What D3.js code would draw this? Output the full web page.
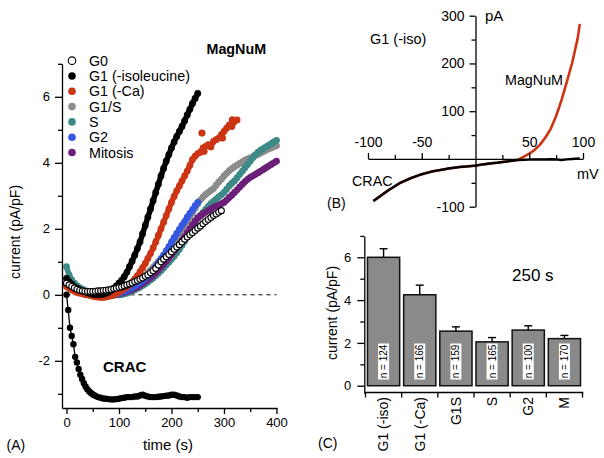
<!DOCTYPE html>
<html><head><meta charset="utf-8">
<script src="https://cdn.jsdelivr.net/npm/d3@7"></script>
<style>
body{margin:0;background:#fff;}
svg{display:block;font-family:"Liberation Sans",Arial,sans-serif;}
</style></head>
<body>
<svg id="c" width="604" height="458"></svg>
<script>
// ---------- Panel A data (time in s, current in pA/pF) ----------
const tA = [0,5,10,15,20,25,30,35,40,45,50,55,60,65,70,75,80,85,90,95,100,105,110,115,120,125,130,135,140,145,150,155,160,165,170,175,180,185,190,195,200,205,210,215,220,225,230,235,240,245,250,255,260,265,270,275,280,285,290,295,300,305,310,315,320,325,330,335,340,345,350,355,360,365,370,375,380,385,390,395,400];
const seriesNames = ["G0","G1 (-isoleucine)","G1 (-Ca)","G1/S","S","G2","Mitosis"];
const seriesColors = ["#ffffff","#000000","#cc3514","#8c8c8c","#3d8a87","#3558e0","#6c1f78"];
const valG0 = [0.35,0.3,0.25,0.21,0.17,0.14,0.12,0.11,0.1,0.1,0.1,0.11,0.12,0.12,0.13,0.14,0.15,0.16,0.18,0.2,0.22,0.24,0.27,0.3,0.33,0.36,0.4,0.43,0.47,0.51,0.56,0.61,0.67,0.73,0.8,0.9,1.0,1.08,1.15,1.22,1.3,1.38,1.45,1.52,1.6,1.68,1.75,1.82,1.88,1.95,2.02,2.08,2.15,2.22,2.28,2.34,2.4,2.45,2.5,2.55];
const valG1 = [0.5,0.4,0.32,0.25,0.2,0.16,0.12,0.09,0.06,0.04,0.02,0.01,0.0,0.01,0.02,0.05,0.08,0.13,0.2,0.27,0.35,0.44,0.55,0.68,0.85,1.02,1.2,1.4,1.6,1.85,2.1,2.35,2.6,2.85,3.1,3.35,3.6,3.83,4.05,4.25,4.45,4.63,4.8,4.95,5.1,5.27,5.45,5.62,5.8,5.95,6.1];
const valG1Ca = [0.25,0.2,0.15,0.11,0.08,0.05,0.03,0.01,0.0,-0.02,-0.04,-0.06,-0.07,-0.08,-0.08,-0.07,-0.05,-0.03,0.0,0.04,0.08,0.13,0.18,0.24,0.3,0.38,0.48,0.58,0.7,0.82,0.95,1.1,1.25,1.42,1.6,1.8,2.0,2.2,2.4,2.6,2.8,2.98,3.15,3.3,3.45,3.6,3.75,3.92,4.1,4.2,4.28,4.32,4.45,4.5,4.55,4.48,4.65,4.7,4.75,4.85,4.95,5.05,5.15,5.1,5.25,5.3];
const scatterG1CaT = [258,262,297,316];
const scatterG1CaV = [4.9,4.35,4.75,5.3];
const valG1S = [0.4,0.32,0.25,0.2,0.15,0.11,0.08,0.06,0.04,0.02,0.01,0.0,0.0,0.0,0.0,0.01,0.02,0.03,0.05,0.07,0.1,0.13,0.17,0.21,0.25,0.3,0.35,0.41,0.47,0.53,0.6,0.67,0.75,0.83,0.92,1.01,1.1,1.2,1.3,1.4,1.5,1.62,1.74,1.86,1.98,2.1,2.22,2.35,2.48,2.62,2.75,2.87,2.96,3.04,3.1,3.16,3.22,3.32,3.42,3.5,3.6,3.68,3.76,3.82,3.88,3.93,3.98,4.03,4.08,4.12,4.15,4.19,4.22,4.26,4.3,4.34,4.38,4.42,4.45,4.49,4.52];
const valS = [0.85,0.6,0.45,0.35,0.28,0.22,0.17,0.13,0.1,0.07,0.05,0.03,0.02,0.01,0.0,-0.01,-0.01,-0.01,-0.01,0.0,0.0,0.01,0.03,0.05,0.08,0.11,0.15,0.19,0.23,0.28,0.33,0.39,0.45,0.51,0.58,0.65,0.73,0.81,0.9,0.99,1.08,1.17,1.27,1.38,1.5,1.62,1.75,1.9,2.05,2.2,2.32,2.41,2.5,2.59,2.68,2.76,2.83,2.9,2.97,3.03,3.1,3.2,3.3,3.38,3.45,3.55,3.65,3.75,3.85,3.95,4.05,4.15,4.25,4.32,4.38,4.43,4.48,4.53,4.58,4.63,4.68];
const valG2 = [0.3,0.25,0.2,0.16,0.12,0.09,0.07,0.05,0.03,0.01,0.0,-0.01,-0.02,-0.03,-0.03,-0.03,-0.02,-0.01,0.0,0.02,0.05,0.07,0.1,0.14,0.18,0.22,0.27,0.32,0.37,0.43,0.5,0.57,0.65,0.75,0.85,0.96,1.08,1.2,1.33,1.46,1.6,1.73,1.86,1.98,2.1,2.22,2.35,2.47,2.58,2.7,2.8];
const valM = [0.3,0.25,0.2,0.16,0.12,0.1,0.08,0.06,0.05,0.03,0.02,0.01,0.0,-0.01,-0.01,-0.01,-0.01,0.0,0.0,0.01,0.03,0.05,0.07,0.1,0.13,0.16,0.2,0.24,0.29,0.34,0.4,0.46,0.52,0.59,0.67,0.75,0.84,0.93,1.02,1.12,1.22,1.32,1.42,1.53,1.65,1.76,1.88,2.0,2.12,2.23,2.33,2.39,2.45,2.5,2.55,2.6,2.65,2.69,2.72,2.76,2.8,2.87,2.95,3.02,3.1,3.18,3.27,3.35,3.43,3.5,3.56,3.6,3.65,3.7,3.75,3.8,3.85,3.9,3.95,4.0,4.05];
const tCRAC = [0,3.3,6.6,9.9,13.2,16.5,19.8,23.1,26.4,29.7,33,36.3,39.6,42.9,46.2,49.5,52.8,56.1,60,65,70,75,80,85,90,95,100,105,110,115,120,125,130,135,140,145,150,155,160,165,170,175,180,185,190,195,200,205,210,215,220,225,230,235,240,245,250];
const valCRAC = [0,-0.46,-1.0,-1.25,-1.5,-1.88,-2.05,-2.25,-2.42,-2.55,-2.68,-2.78,-2.86,-2.92,-2.97,-3.01,-3.04,-3.07,-3.1,-3.12,-3.14,-3.15,-3.16,-3.17,-3.17,-3.16,-3.15,-3.13,-3.12,-3.1,-3.1,-3.1,-3.08,-3.08,-3.05,-3.03,-3.06,-3.08,-3.1,-3.1,-3.1,-3.09,-3.08,-3.07,-3.06,-3.05,-3.03,-3.03,-3.05,-3.08,-3.1,-3.1,-3.12,-3.1,-3.1,-3.1,-3.1];
const ticksAx = [0,100,200,300,400];
const ticksAy = [-2,0,2,4,6];

// ---------- Panel B data (mV, pA) ----------
const mvB = [-95,-90,-85,-80,-75,-70,-65,-60,-55,-50,-45,-40,-35,-30,-25,-20,-15,-10,-5,0,5,10,15,20,25,30,35,40,45,50,55,60,65,70,75,80,85,90,95,97];
const pACRAC = [-88,-80,-72,-64,-57,-50,-45,-40,-36,-32,-29,-26,-24,-22,-20,-18.5,-17,-16,-15,-14,-12,-10.5,-9,-8,-6.5,-5,-3.5,-2.5,-2,-1.5,-1.2,-1,-1,-0.5,-1,-2.5,-1,0,1,0.5];
const pAMagNuM = [-88,-80,-72,-64,-57,-50,-45,-40,-36,-32,-29,-26,-24,-22,-20,-18.5,-17,-16,-15,-14,-12,-10.5,-9,-8,-6.5,-5,-3.5,-1,5,11,19,30,45,63,90,123,162,202,252,283];
const ticksBx = [-100,-50,50,100];
const ticksBy = [-100,100,200,300];

// ---------- Panel C data (current at 250 s) ----------
const catsC = ["G1 (-iso)","G1 (-Ca)","G1S","S","G2","M"];
const meanC = [6.0,4.25,2.55,2.05,2.6,2.2];
const semC = [0.4,0.45,0.2,0.2,0.2,0.15];
const nC = [124,166,159,165,100,170];
const ticksCy = [0,2,4,6];

const svg = d3.select("#c");
svg.append("rect").attr("width",604).attr("height",458).attr("fill","#fff");
const FONT = "'Liberation Sans', Arial, sans-serif";
const fmt = d => String(d);

function styleAxis(g, fs){
  g.select(".domain").attr("stroke","#000").attr("stroke-width",1.3);
  g.selectAll(".tick line").attr("stroke","#000").attr("stroke-width",1.3);
  g.selectAll(".tick text").attr("fill","#000").attr("font-size",fs).attr("font-family",FONT);
}
function minor(g){ g.select(".domain").remove(); g.selectAll("line").attr("stroke","#000").attr("stroke-width",1.3); }

// ================= Panel A =================
const xA = d3.scaleLinear().domain([-8.57,401]).range([62,277]);
const yA = d3.scaleLinear().domain([-3.43,7]).range([408,63.8]);

const gAy = svg.append("g").attr("transform","translate(62,0)")
  .call(d3.axisLeft(yA).tickValues(ticksAy).tickSize(7).tickSizeOuter(0).tickPadding(5).tickFormat(fmt));
styleAxis(gAy,13);
svg.append("g").attr("transform","translate(62,0)")
  .call(d3.axisLeft(yA).tickValues([-3,-1,1,3,5,7]).tickSize(4).tickSizeOuter(0).tickFormat("")).call(minor);
const gAx = svg.append("g").attr("transform","translate(0,408)")
  .call(d3.axisBottom(xA).tickValues(ticksAx).tickSize(6).tickSizeOuter(0).tickPadding(4).tickFormat(fmt));
styleAxis(gAx,13);
svg.append("g").attr("transform","translate(0,408)")
  .call(d3.axisBottom(xA).tickValues([50,150,250,350]).tickSize(4).tickSizeOuter(0).tickFormat("")).call(minor);

// zero dashed line
svg.append("line").attr("x1",xA(0)).attr("x2",xA(400)).attr("y1",yA(0)).attr("y2",yA(0))
  .attr("stroke","#000").attr("stroke-width",1).attr("stroke-dasharray","4,4");

const lineA = d3.line().x(d=>xA(d[0])).y(d=>yA(d[1]));
function zipT(vals, times){ return vals.map((v,i)=>[times[i],v]); }
function dots(pts, color, r){
  svg.append("g").selectAll("circle").data(pts).join("circle")
    .attr("cx",d=>xA(d[0])).attr("cy",d=>yA(d[1])).attr("r",r).attr("fill",color);
}
function thickSeries(vals, color){
  const pts = zipT(vals, tA);
  svg.append("path").datum(pts).attr("d",lineA).attr("fill","none")
    .attr("stroke",color).attr("stroke-width",5.5).attr("stroke-linejoin","round").attr("stroke-linecap","round");
  dots(pts, color, 3.4);
}
thickSeries(valG1S, seriesColors[3]);
thickSeries(valS, seriesColors[4]);
thickSeries(valM, seriesColors[6]);
thickSeries(valG2, seriesColors[5]);
thickSeries(valG1Ca, seriesColors[2]);
dots(zipT(scatterG1CaV, scatterG1CaT), seriesColors[2], 3.6);
thickSeries(valG1, seriesColors[1]);

// CRAC trace
const crac = zipT(valCRAC, tCRAC);
svg.append("path").datum(crac).attr("d",lineA).attr("fill","none").attr("stroke","#000").attr("stroke-width",1.3);
dots(crac, "#000", 3.2);

// G0 open circles
svg.append("g").selectAll("circle").data(zipT(valG0,tA)).join("circle")
  .attr("cx",d=>xA(d[0])).attr("cy",d=>yA(d[1])).attr("r",3).attr("fill","#fff")
  .attr("stroke","#000").attr("stroke-width",1.1);

// legend
const leg = svg.append("g");
seriesNames.forEach((n,i)=>{
  const y = 60.7 + i*15.3;
  leg.append("circle").attr("cx",72).attr("cy",y).attr("r",3.8)
    .attr("fill",seriesColors[i]).attr("stroke",i===0?"#000":"none").attr("stroke-width",1.1);
  leg.append("text").attr("x",89).attr("y",y).attr("dy","0.36em").attr("font-size",14.3)
    .attr("font-family",FONT).text(n);
});

svg.append("text").attr("x",206.5).attr("y",53.5).attr("font-size",14.3).attr("font-weight","bold").attr("font-family",FONT).text("MagNuM");
svg.append("text").attr("x",103).attr("y",372).attr("font-size",15).attr("font-weight","bold").attr("font-family",FONT).text("CRAC");
svg.append("text").attr("x",168).attr("y",450).attr("text-anchor","middle").attr("font-size",15).attr("font-family",FONT).text("time (s)");
svg.append("text").attr("x",6.5).attr("y",450).attr("font-size",14).attr("font-family",FONT).text("(A)");
svg.append("text").attr("transform","translate(20,232) rotate(-90)").attr("text-anchor","middle").attr("font-size",14).attr("font-family",FONT).text("current (pA/pF)");

// ================= Panel B =================
const xB = d3.scaleLinear().domain([-100,100]).range([368,583]);
const yB = d3.scaleLinear().domain([-100,300]).range([206.7,15.7]);

const lineB = d3.line().x(d=>xB(d[0])).y(d=>yB(d[1]));
svg.append("path").datum(mvB.map((m,i)=>[m,pAMagNuM[i]])).attr("d",lineB).attr("fill","none")
  .attr("stroke","#cc3514").attr("stroke-width",2.6).attr("stroke-linejoin","round");
svg.append("path").datum(mvB.map((m,i)=>[m,pACRAC[i]])).attr("d",lineB).attr("fill","none")
  .attr("stroke","#000").attr("stroke-width",2.4).attr("stroke-linejoin","round");

const gBx = svg.append("g").attr("transform",`translate(0,${yB(0)})`)
  .call(d3.axisTop(xB).tickValues(ticksBx).tickSize(6).tickSizeOuter(0).tickPadding(6).tickFormat(fmt));
styleAxis(gBx,14);
svg.append("g").attr("transform",`translate(0,${yB(0)})`)
  .call(d3.axisTop(xB).tickValues([-75,-25,25,75]).tickSize(4).tickSizeOuter(0).tickFormat("")).call(minor);
const gBy = svg.append("g").attr("transform",`translate(${xB(0)},0)`)
  .call(d3.axisLeft(yB).tickValues(ticksBy).tickSize(6).tickSizeOuter(0).tickPadding(5).tickFormat(fmt));
styleAxis(gBy,14);
svg.append("g").attr("transform",`translate(${xB(0)},0)`)
  .call(d3.axisLeft(yB).tickValues([-50,50,150,250]).tickSize(4).tickSizeOuter(0).tickFormat("")).call(minor);

function txt(x,y,s,fs,anchor){ svg.append("text").attr("x",x).attr("y",y).attr("font-size",fs).attr("font-family",FONT).attr("text-anchor",anchor||"start").text(s); }
txt(370,43.5,"G1 (-iso)",14.5);
txt(485,21,"pA",15);
txt(505,85,"MagNuM",14.3);
txt(577,178.5,"mV",14.5);
txt(352,185.5,"CRAC",14.3);
txt(327,207.5,"(B)",14);

// ================= Panel C =================
const xC = d3.scaleBand().domain(catsC).range([365.5,582.5]).paddingInner(0.11).paddingOuter(0.055);
const yC = d3.scaleLinear().domain([-0.34,7]).range([393,235.9]);

svg.append("g").selectAll("rect").data(catsC).join("rect")
  .attr("x",d=>xC(d)).attr("width",xC.bandwidth())
  .attr("y",(d,i)=>yC(meanC[i])).attr("height",(d,i)=>yC(0)-yC(meanC[i]))
  .attr("fill","#8a8a8a").attr("stroke","#111").attr("stroke-width",1.5);

// error bars and n labels
const eb = svg.append("g").attr("stroke","#000").attr("stroke-width",1.4);
catsC.forEach((c,i)=>{
  const cx = xC(c)+xC.bandwidth()/2;
  eb.append("line").attr("x1",cx).attr("x2",cx).attr("y1",yC(meanC[i])).attr("y2",yC(meanC[i]+semC[i]));
  eb.append("line").attr("x1",cx-4).attr("x2",cx+4).attr("y1",yC(meanC[i]+semC[i])).attr("y2",yC(meanC[i]+semC[i]));
  svg.append("rect").attr("x",cx-5.5).attr("y",343.5).attr("width",11).attr("height",36).attr("fill","#fff");
  svg.append("text").attr("transform",`translate(${cx},361.5) rotate(-90)`).attr("text-anchor","middle")
    .attr("dy","0.35em").attr("font-size",10).attr("font-family",FONT).text("n = "+nC[i]);
});

const gCy = svg.append("g").attr("transform","translate(364.3,0)")
  .call(d3.axisLeft(yC).tickValues(ticksCy).tickSize(7).tickSizeOuter(0).tickPadding(6).tickFormat(fmt));
styleAxis(gCy,13);
svg.append("g").attr("transform","translate(364.3,0)")
  .call(d3.axisLeft(yC).tickValues([1,3,5,7]).tickSize(4).tickSizeOuter(0).tickFormat("")).call(minor);

// x axis for C
const xCax = svg.append("g").attr("transform","translate(0,392.5)");
xCax.append("line").attr("x1",364.3).attr("x2",583.3).attr("stroke","#000").attr("stroke-width",1.3);
const bounds = catsC.map(c=>xC(c)-xC.step()*xC.paddingInner()/2).concat([xC(catsC[catsC.length-1])+xC.bandwidth()+xC.step()*xC.paddingInner()/2]);
xCax.selectAll("line.tk").data(bounds).join("line").attr("class","tk")
  .attr("x1",d=>d).attr("x2",d=>d).attr("y1",0).attr("y2",5).attr("stroke","#000").attr("stroke-width",1.3);
catsC.forEach(c=>{
  svg.append("text").attr("transform",`translate(${xC(c)+xC.bandwidth()/2},397) rotate(-90)`)
    .attr("text-anchor","end").attr("dy","0.35em").attr("font-size",14).attr("font-family",FONT).text(c);
});

txt(512,281,"250 s",17);
txt(318,448,"(C)",14);
svg.append("text").attr("transform","translate(337,313) rotate(-90)").attr("text-anchor","middle").attr("font-size",14).attr("font-family",FONT).text("current (pA/pF)");
</script>
</body></html>
